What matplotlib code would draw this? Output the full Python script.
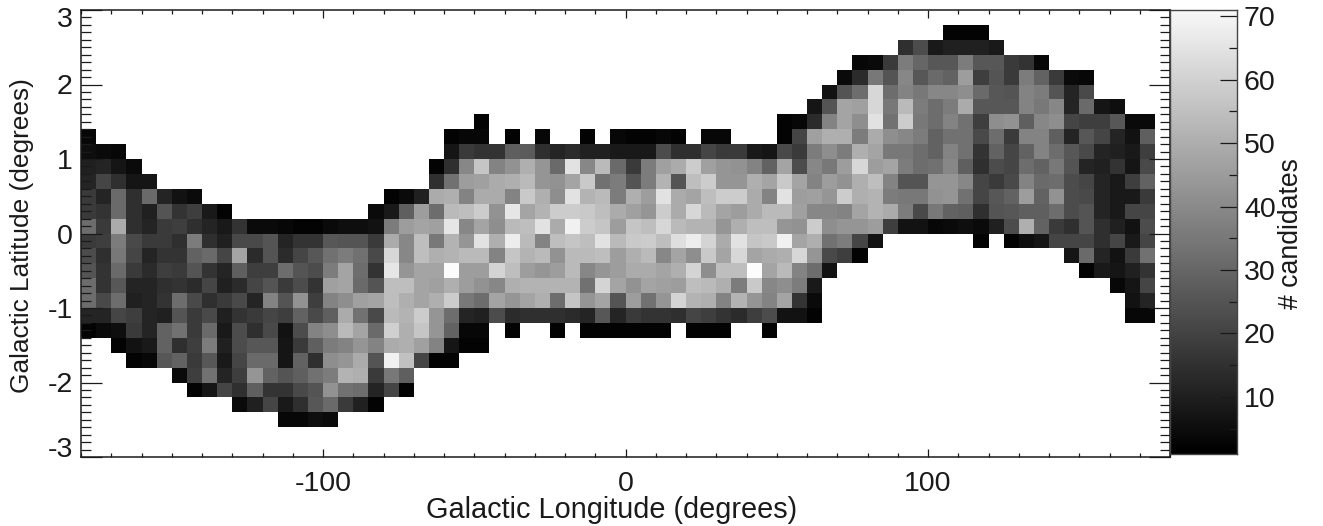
import numpy as np
import matplotlib
matplotlib.use("Agg")
import matplotlib.pyplot as plt
from matplotlib.ticker import MultipleLocator
from matplotlib.transforms import ScaledTranslation

plt.rcParams['font.family'] = ['Liberation Sans', 'DejaVu Sans']
plt.rcParams['axes.unicode_minus'] = False

_ = None

# candidates per cell, one list per latitude band (5 x 0.2 degree cells)
# each band starts at the column given in band_first
lat_260 = [2, 2, 2]
lat_240 = [14, 22, 8, 10, 10, 10, 8]
lat_220 = [3, 4, 17, 35, 29, 25, 25, 35, 25, 25, 17, 15, 3]
lat_200 = [4, 13, 34, 24, 38, 25, 30, 28, 44, 18, 24, 17, 35, 28, 17, 4, 3]
lat_180 = [6, 24, 31, 60, 31, 37, 34, 38, 38, 40, 30, 25, 24, 37, 35, 24, 11, 21]
lat_160 = [7, 24, 46, 45, 60, 34, 52, 35, 31, 35, 48, 25, 25, 25, 37, 34, 38, 11, 30, 7, 5]
lat_140 = [2] + [_] * 19 + [2, 3, 13, 37, 46, 40, 63, 32, 57, 34, 31, 37, 32, 18, 40, 41, 27, 38, 40, 20, 18, 18, 25, 4, 4]
lat_120 = [3] + [_] * 23 + [2, 3, 3, _, 2, _, 3, _, _, 2, _, 3, 2, 2, 3, 2, _, 3, 3, _, _, _,
                            2, 20, 45, 49, 49, 35, 48, 40, 38, 35, 28, 32, 32, 21, 31, 17, 37, 37, 27, 11, 25, 20, 11, 6, 27]
lat_100 = [5, 4, 3] + [_] * 21 + [7, 17, 15, 15, 27, 26, 14, 11, 13, 10, 10, 8, 8, 8, 22, 14, 14, 20, 17, 17, 8, 7, 21, 17, 35,
                                  40, 35, 49, 46, 34, 34, 31, 28, 37, 32, 15, 28, 20, 28, 37, 31, 25, 21, 11, 10, 8, 18]
lat_080 = [10, 11, 7, 4] + [_] * 19 + [2, 14, 38, 55, 37, 41, 49, 42, 30, 63, 38, 52, 30, 17, 35, 45, 48, 57, 45, 42, 41, 37, 28, 46, 22,
                                       38, 34, 44, 60, 44, 46, 35, 31, 32, 38, 27, 14, 22, 20, 31, 28, 34, 24, 11, 10, 15, 7, 21]
lat_060 = [11, 20, 14, 7, 7] + [_] * 18 + [14, 32, 44, 45, 48, 49, 52, 42, 41, 46, 56, 32, 35, 24, 35, 50, 24, 53, 57, 42, 42, 49, 46, 56, 46,
                                           37, 44, 41, 49, 53, 37, 24, 24, 42, 42, 38, 20, 17, 21, 37, 30, 31, 22, 20, 11, 8, 18, 28]
lat_040 = [17, 11, 30, 14, 30, 11, 6, 4] + [_] * 12 + [2, 4, 10, 48, 49, 37, 48, 48, 37, 56, 49, 40, 63, 50, 52, 35, 49, 44, 63, 48, 46, 53, 57, 57, 48,
                                                       37, 63, 44, 45, 42, 57, 49, 50, 35, 34, 34, 41, 42, 32, 20, 25, 28, 44, 28, 41, 22, 21, 11, 8, 8, 17]
lat_020 = [17, 15, 30, 14, 10, 24, 15, 18, 8, 2] + [_] * 9 + [4, 8, 27, 44, 31, 52, 53, 57, 41, 64, 46, 50, 57, 57, 56, 53, 48, 45, 42, 57, 48, 60, 52, 46, 44,
                                                              48, 52, 52, 45, 38, 38, 37, 46, 50, 48, 35, 21, 34, 28, 27, 14, 24, 25, 27, 27, 31, 22, 24, 11, 8, 20, 20]
lat_000 = [31, 17, 48, 14, 11, 17, 18, 14, 11, 8, 15, 4, 4, 3, 2, 2, 4, 5, 5, 6, 35, 44, 46, 45, 64, 38, 46, 40, 52, 53, 63, 48, 67, 57, 55,
           44, 55, 53, 60, 52, 50, 50, 42, 49, 53, 53, 42, 41, 57, 40, 42, 42, 44, 18, 6, 6, 3, 4, 5, 4, 10, 22, 49, 28, 17, 14, 24, 14, 10, 6, 22]
lat_m020 = [17, 18, 35, 21, 17, 17, 14, 35, 14, 10, 21, 21, 24, 11, 15, 15, 25, 24, 24, 17, 48, 38, 53, 34, 50, 42, 63, 49, 66, 52, 37, 53, 55, 53, 63,
            52, 56, 57, 53, 62, 66, 59, 48, 63, 55, 56, 67, 46, 49, 32, 35, 20, 6] + [_] * 6 + [2, _, 2, 5, 7, 20, 20, 20, 14, 20, 8, 20]
lat_m040 = [22, 14, 34, 20, 11, 15, 15, 28, 30, 20, 46, 13, 24, 13, 20, 25, 32, 35, 32, 21, 60, 38, 53, 49, 50, 52, 52, 37, 55, 50, 52, 41, 52, 52, 53,
            44, 49, 52, 38, 46, 40, 56, 46, 60, 46, 48, 49, 60, 42, 21, 18, 2] + [_] * 13 + [7, 30, 11, 6, 17, 32]
lat_m060 = [24, 15, 30, 17, 13, 18, 17, 24, 15, 11, 27, 18, 18, 31, 24, 22, 35, 46, 31, 15, 64, 42, 46, 46, 70, 44, 44, 59, 53, 44, 42, 44, 52, 38, 42,
            44, 48, 48, 46, 49, 59, 40, 53, 53, 70, 46, 52, 37, 31, 6] + [_] * 16 + [2, 8, 7, 10, 15]
lat_m080 = [31, 15, 25, 11, 11, 14, 15, 13, 20, 10, 13, 20, 24, 17, 22, 15, 45, 46, 30, 24, 53, 53, 46, 45, 49, 44, 41, 38, 49, 50, 50, 50, 50, 32, 59,
            46, 41, 46, 45, 44, 53, 52, 49, 35, 56, 38, 40, 35, 8] + [_] * 19 + [3, 7, 20]
lat_m100 = [31, 21, 31, 10, 11, 15, 31, 21, 14, 17, 21, 11, 37, 24, 41, 18, 37, 40, 45, 46, 53, 49, 46, 49, 57, 34, 31, 46, 42, 46, 49, 31, 55, 42, 46,
            24, 44, 32, 42, 59, 50, 49, 37, 50, 42, 37, 46, 15, 4] + [_] * 20 + [6, 11]
lat_m120 = [11, 11, 20, 18, 11, 10, 24, 17, 21, 10, 15, 17, 20, 18, 28, 21, 27, 48, 32, 21, 52, 50, 57, 42, 31, 11, 10, 22, 13, 14, 14, 14, 13, 11, 25,
            11, 17, 15, 15, 14, 20, 18, 15, 13, 18, 22, 6, 6, 2] + [_] * 20 + [3, 3]
lat_m140 = [2, 4, 5, 17, 11, 28, 32, 17, 30, 8, 22, 14, 21, 6, 22, 37, 40, 52, 46, 30, 58, 49, 55, 42, 28, 3, 3, _, 2, _, _, 2, _,
            2, 2, 2, 2, 2, 2, _, 2, 2, 2, _, _, 2]
lat_m160 = [2, 6, 8, 28, 14, 18, 35, 10, 22, 25, 25, 7, 17, 27, 35, 37, 42, 37, 48, 49, 45, 37, 7, 2, 2]
lat_m180 = [2, 3, 25, 28, 17, 25, 8, 20, 30, 30, 7, 28, 14, 40, 42, 48, 24, 67, 54, 20, 2, 2]
lat_m200 = [4, 18, 32, 11, 18, 42, 28, 24, 27, 32, 35, 50, 49, 17, 34, 27]
lat_m220 = [2, 7, 20, 14, 27, 15, 15, 21, 24, 41, 32, 31, 11, 20, 2]
lat_m240 = [4, 10, 20, 8, 14, 25, 30, 17, 10, 2]
lat_m260 = [3, 3, 5, 4]

bands = [lat_m260, lat_m240, lat_m220, lat_m200, lat_m180, lat_m160, lat_m140, lat_m120, lat_m100,
         lat_m080, lat_m060, lat_m040, lat_m020, lat_000, lat_020, lat_040, lat_060, lat_080, lat_100,
         lat_120, lat_140, lat_160, lat_180, lat_200, lat_220, lat_240, lat_260]
band_first = [13, 10, 7, 6, 3, 2, 0, 0, 0, 0, 0, 0, 0, 0, 0, 0, 0, 0, 0, 0, 26, 48, 49, 50, 51, 54, 57]

lon_edges = np.arange(-180, 181, 5)
lat_edges = np.arange(-30, 31, 2) / 10.0

grid = np.full((30, 72), np.nan)
for i, (vals, first) in enumerate(zip(bands, band_first)):
    row = np.array(vals, dtype=float)
    grid[i + 2, first:first + len(row)] = row

W, H = 1323, 526
fig = plt.figure(figsize=(W / 100, H / 100), dpi=100)
ax = fig.add_axes([81 / W, (H - 457) / H, 1089 / W, 447 / H])
ax.pcolormesh(lon_edges, lat_edges, grid, cmap='gray', vmin=1, vmax=71)
ax.set_xlim(-180, 180)
ax.set_ylim(-3, 3)

fs = 20.5
ink = '#1a1a1a'
ax.xaxis.set_major_locator(MultipleLocator(100))
ax.xaxis.set_minor_locator(MultipleLocator(10))
ax.yaxis.set_major_locator(MultipleLocator(1))
ax.yaxis.set_minor_locator(MultipleLocator(0.1))
ax.tick_params(axis='x', which='major', direction='in', top=True, length=5.8, width=0.9, color=ink,
               labelsize=fs, labelcolor=ink, pad=10)
ax.tick_params(axis='x', which='minor', direction='in', top=True, length=2.9, width=0.9, color=ink)
ax.tick_params(axis='y', which='major', direction='in', right=True, length=15, width=0.9, color=ink,
               labelsize=fs, labelcolor=ink, pad=6)
ax.tick_params(axis='y', which='minor', direction='in', right=True, length=7.2, width=0.9, color=ink)
ax.set_xticks([-100, 0, 100])
ax.set_yticks([-3, -2, -1, 0, 1, 2, 3])
ax.set_yticklabels(['-3', '-2', '-1', '0', '1', '2', '3'])

# end labels are pulled inside the axis range
ylabs = ax.get_yticklabels()
ylabs[0].set_transform(ylabs[0].get_transform() + ScaledTranslation(0, 10 / 100, fig.dpi_scale_trans))
ylabs[-1].set_transform(ylabs[-1].get_transform() + ScaledTranslation(0, -7 / 100, fig.dpi_scale_trans))
for s in ax.spines.values():
    s.set_linewidth(1.1)
    s.set_color(ink)

# colour bar
cax = fig.add_axes([1170 / W, (H - 454) / H, 67 / W, 444 / H])
ramp = np.linspace(1, 71, 256).reshape(-1, 1)
cax.imshow(ramp, origin='lower', aspect='auto', cmap='gray', vmin=1, vmax=73, extent=[0, 1, 1, 71])
cax.set_xticks([])
cax.yaxis.tick_right()
cax.yaxis.set_major_locator(MultipleLocator(10))
cax.yaxis.set_minor_locator(MultipleLocator(5))
cax.tick_params(axis='y', which='major', direction='in', length=12, width=0.9, color=ink,
                labelsize=fs, labelcolor=ink, pad=5)
cax.tick_params(axis='y', which='minor', direction='in', length=6, width=0.9, color=ink)
for s in cax.spines.values():
    s.set_linewidth(1.0)
    s.set_color('#444444')

fig.text(612 / W, 1 - 510 / H, 'Galactic Longitude (degrees)', ha='center', va='center', fontsize=20.8, color=ink)
fig.text(22 / W, 1 - 236 / H, 'Galactic Latitude (degrees)', ha='center', va='center', rotation=90, fontsize=18.9, color=ink)
fig.text(1291 / W, 1 - 234 / H, '# candidates', ha='center', va='center', rotation=90, fontsize=19.2, color=ink)

fig.savefig('out.png', dpi=100)
